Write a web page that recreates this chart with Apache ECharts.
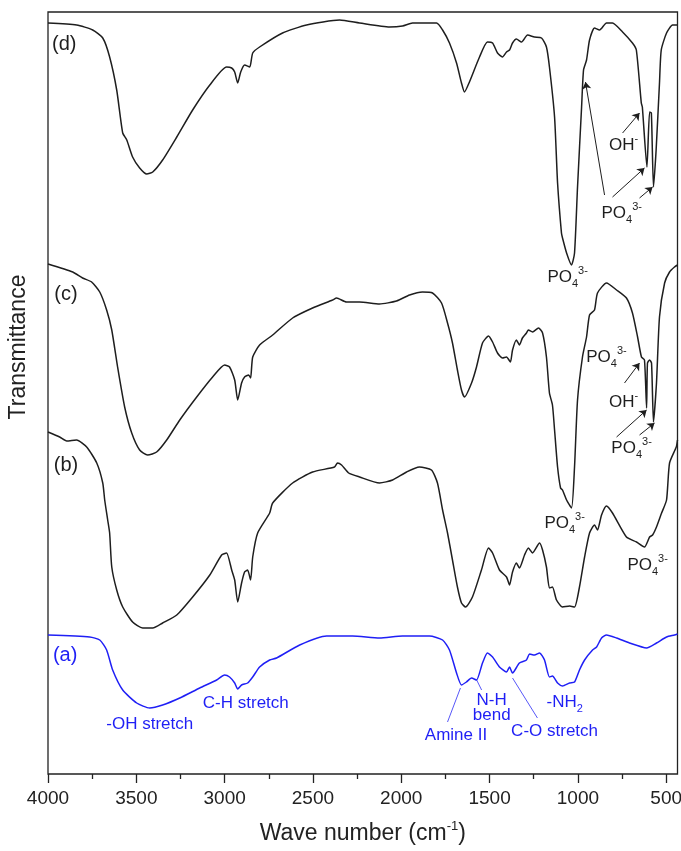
<!DOCTYPE html>
<html><head><meta charset="utf-8">
<script src="https://cdn.jsdelivr.net/npm/echarts@6/dist/echarts.min.js"></script>
<style>html,body{margin:0;padding:0;background:#fff}#c{width:681px;height:851px}</style>
</head><body><div id="c"></div>
<script>
// ---- data: [wave number (cm-1), transmittance (a.u., offset stack)] ----
const specD = [[4000,751],[3838,749],[3747,744],[3690,736],[3651,717],[3611,684],[3577,641],[3554,634],[3521,617],[3481,606],[3441,600],[3407,602],[3351,614],[3271,637],[3181,664],[3084,689],[2989,707],[2960,706],[2943,702],[2926,691],[2909,702],[2887,709],[2858,707],[2841,721],[2802,727],[2672,741],[2536,749],[2349,754],[2236,751],[2066,747],[1993,748],[1936,751],[1800,751],[1766,744],[1727,731],[1687,711],[1659,691],[1642,682],[1614,692],[1557,717],[1512,732],[1483,731],[1455,721],[1427,717],[1404,722],[1387,724],[1370,731],[1348,735],[1319,732],[1285,739],[1246,737],[1206,736],[1178,727],[1161,707],[1132,657],[1115,591],[1093,541],[1087,536],[1064,521],[1036,509],[1019,521],[1002,587],[979,667],[968,704],[951,714],[934,734],[906,746],[877,744],[838,751],[804,751],[747,742],[691,731],[669,724],[641,671],[635,667],[609,607],[594,662],[584,661],[572,587],[557,624],[538,691],[528,724],[498,741],[464,749],[436,749]];
const specC = [[4000,510],[3860,502],[3804,496],[3753,492],[3707,482],[3668,464],[3639,444],[3606,407],[3566,367],[3526,341],[3481,324],[3436,319],[3385,322],[3328,334],[3254,354],[3158,377],[3068,397],[3000,409],[2972,407],[2943,394],[2926,374],[2904,391],[2887,397],[2864,399],[2853,396],[2841,417],[2802,429],[2728,439],[2615,456],[2502,466],[2389,474],[2366,476],[2310,472],[2236,472],[2123,470],[2027,473],[1953,479],[1880,482],[1823,481],[1772,471],[1738,451],[1710,431],[1682,404],[1659,384],[1642,377],[1602,391],[1574,407],[1540,431],[1506,438],[1483,432],[1455,421],[1427,416],[1404,417],[1382,412],[1370,424],[1348,434],[1331,429],[1314,436],[1291,441],[1280,444],[1257,442],[1223,446],[1200,441],[1178,417],[1161,381],[1144,369],[1132,344],[1115,307],[1098,286],[1087,284],[1064,274],[1036,266],[1019,307],[1002,374],[974,417],[951,437],[934,459],[906,464],[889,481],[838,491],[781,484],[725,476],[691,461],[662,437],[640,417],[623,414],[611,366],[606,411],[594,414],[583,411],[572,352],[555,391],[538,457],[509,491],[481,502],[453,507],[436,509]];
const specB = [[4000,342],[3934,337],[3894,333],[3838,334],[3781,327],[3724,311],[3690,291],[3679,274],[3662,254],[3651,241],[3639,207],[3611,184],[3577,167],[3521,152],[3464,146],[3407,146],[3351,151],[3271,159],[3181,177],[3084,199],[3017,219],[2989,221],[2960,204],[2943,194],[2926,172],[2904,191],[2887,202],[2870,204],[2853,194],[2841,217],[2813,241],[2745,261],[2728,271],[2615,291],[2502,302],[2378,307],[2361,311],[2338,309],[2298,301],[2236,297],[2123,291],[2049,294],[1970,302],[1897,307],[1829,304],[1795,291],[1766,264],[1738,241],[1710,214],[1682,187],[1659,171],[1636,167],[1597,177],[1546,204],[1506,226],[1483,221],[1444,204],[1404,197],[1387,189],[1370,202],[1348,211],[1331,206],[1302,219],[1280,226],[1257,221],[1217,231],[1200,224],[1178,207],[1161,186],[1144,187],[1121,174],[1087,167],[1047,168],[1019,167],[991,187],[962,217],[934,241],[906,249],[889,244],[866,259],[838,268],[804,261],[725,237],[668,232],[623,227],[594,237],[577,239],[555,247],[526,261],[498,274],[481,311],[443,327],[436,334]];
const specA = [[4000,139],[3764,137],[3707,134],[3668,124],[3634,104],[3577,84],[3498,71],[3424,66],[3351,69],[3254,76],[3141,86],[3045,94],[3000,99],[2972,97],[2943,91],[2926,85],[2904,89],[2870,91],[2841,97],[2802,107],[2745,114],[2706,116],[2575,129],[2423,138],[2276,138],[2123,136],[1993,138],[1840,138],[1766,134],[1727,124],[1687,101],[1659,89],[1631,92],[1602,96],[1574,94],[1540,111],[1512,121],[1483,117],[1444,107],[1404,102],[1387,107],[1370,101],[1331,111],[1291,114],[1274,120],[1246,119],[1217,121],[1189,114],[1161,97],[1144,98],[1115,91],[1087,88],[1047,91],[1019,92],[991,104],[962,114],[917,124],[894,127],[866,136],[838,139],[781,136],[708,131],[611,126],[555,131],[498,137],[453,139],[436,140]];

const majorTicks = [4000,3500,3000,2500,2000,1500,1000,500];
const minorTicks = [3750,3250,2750,2250,1750,1250,750];

// annotation texts anchored in data coordinates [wn, value]
const blackNotes = [
  ['{big|(d)}',3908,730],['{big|(c)}',3898,480],['{big|(b)}',3898,309],
  ['{m|PO}{sub|4}{sup|3-}',1058,497],
  ['{m|OH}{sup|-}',741,629],
  ['{m|PO}{sub|4}{sup|3-}',752,561],
  ['{m|PO}{sub|4}{sup|3-}',1075,251],
  ['{m|PO}{sub|4}{sup|3-}',838,417],
  ['{m|OH}{sup|-}',741,372],
  ['{m|PO}{sub|4}{sup|3-}',696,326],
  ['{m|PO}{sub|4}{sup|3-}',605,209]
];
const blueNotes = [
  ['{big|(a)}',3903,119],
  ['{m|-OH stretch}',3424,50],
  ['{m|C-H stretch}',2880,71],
  ['{m|Amine II}',1690,39],
  ['{t|N-H}\n{t|bend}',1488,66],
  ['{m|C-O stretch}',1132,43],
  ['{m|-NH}{sub|2}',1075,72]
];
const blackArrows = [
  [[747,641],[651,661]],
  [[849,579],[957,692]],
  [[804,577],[623,606]],
  [[651,576],[577,587]],
  [[736,391],[651,411]],
  [[781,337],[611,364]],
  [[651,339],[566,351]]
];
const blueLeaders = [
  [[1738,52],[1665,86]],
  [[1573,94],[1545,84]],
  [[1370,96],[1229,56]]
];

const FF = '"Liberation Sans", Arial, Helvetica, sans-serif';
const BLACK = '#1e1e1e', BLUE = '#1f1ff5';
function rich(color){
  return {
    m:{fontSize:17,color:color,fontFamily:FF,lineHeight:24,verticalAlign:'middle'},
    t:{fontSize:17,color:color,fontFamily:FF,lineHeight:15},
    big:{fontSize:20,color:color,fontFamily:FF},
    sub:{fontSize:11,color:color,fontFamily:FF,lineHeight:11,verticalAlign:'bottom'},
    sup:{fontSize:11,color:color,fontFamily:FF,lineHeight:11,verticalAlign:'top'}
  };
}
function noteSeries(notes, color, lines, arrow){
  return {
    type:'scatter', silent:true, z:10, symbolSize:0,
    itemStyle:{color:color, opacity:1},
    label:{show:true, position:'inside', color:color, opacity:1, rich:rich(color)},
    data: notes.map(n => ({value:[n[1],n[2]], label:{formatter:n[0]}})),
    markLine:{
      silent:true, animation:false,
      symbol: arrow ? ['none','arrow'] : ['none','none'],
      symbolSize: 7,
      label:{show:false},
      lineStyle:{color:color, width:1, type:'solid', opacity: arrow?1:0.75},
      data: lines.map(l => [{coord:l[0]},{coord:l[1]}])
    }
  };
}
function lineSeries(data, color){
  return {type:'line', data:data, symbol:'none', smooth:0.2, silent:true,
          lineStyle:{color:color, width:1.5}, z:5};
}

const chart = echarts.init(document.getElementById('c'), null, {renderer:'canvas'});
chart.setOption({
  animation:false,
  backgroundColor:'#fff',
  grid:{left:48, right:3.5, top:12, bottom:77, containLabel:false, outerBoundsMode:'none',
        show:true, borderColor:'#222', borderWidth:1.3, backgroundColor:'transparent'},
  xAxis:[{
    type:'value', inverse:true, min:436, max:4000,
    position:'bottom',
    axisLine:{show:false}, splitLine:{show:false},
    axisTick:{show:true, customValues:majorTicks, length:9, lineStyle:{color:'#222', width:1.3}},
    axisLabel:{customValues:majorTicks, fontSize:19, color:'#222', margin:15, fontFamily:FF,
               formatter: v => String(v)},
    name:'{m|Wave number (cm}{sup|-1}{m|)}', nameLocation:'middle', nameGap:46,
    nameTextStyle:{rich:{
      m:{fontSize:23, color:'#222', fontFamily:FF, lineHeight:27, verticalAlign:'middle'},
      sup:{fontSize:13, color:'#222', fontFamily:FF, lineHeight:13, verticalAlign:'top'}
    }}
  },{
    type:'value', inverse:true, min:436, max:4000,
    position:'top', offset:-762,
    axisLine:{show:false}, splitLine:{show:false},
    axisTick:{show:true, inside:true, customValues:minorTicks, length:5, lineStyle:{color:'#222', width:1.3}},
    axisLabel:{show:false}
  }],
  yAxis:{type:'value', min:0, max:762, axisLine:{show:false}, axisTick:{show:false}, axisLabel:{show:false}, splitLine:{show:false}},
  graphic:[{
    type:'text', x:19, y:347, rotation:Math.PI/2, silent:true,
    style:{text:'Transmittance', fontSize:23, fontFamily:FF, fill:'#222', align:'center', verticalAlign:'middle'}
  }],
  series:[
    lineSeries(specD, BLACK),
    lineSeries(specC, BLACK),
    lineSeries(specB, BLACK),
    lineSeries(specA, BLUE),
    noteSeries(blackNotes, BLACK, blackArrows, true),
    noteSeries(blueNotes, BLUE, blueLeaders, false)
  ]
});
</script>
</body></html>
